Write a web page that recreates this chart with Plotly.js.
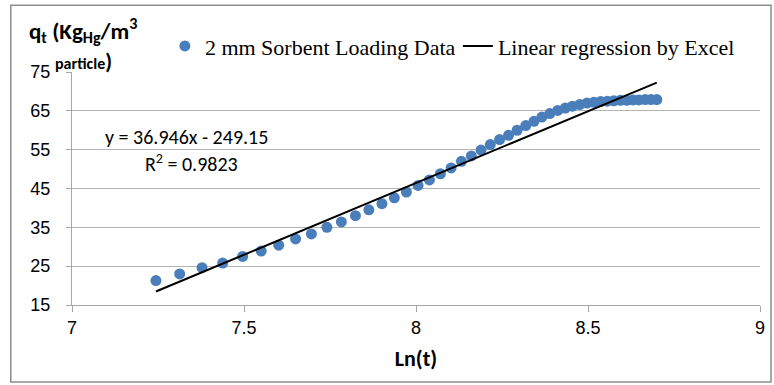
<!DOCTYPE html>
<html>
<head>
<meta charset="utf-8">
<script src="https://cdn.plot.ly/plotly-3.0.1.min.js"></script>
<style>html,body{margin:0;padding:0;background:#fff;}#chart{width:774px;height:385px;}</style>
</head>
<body>
<div id="chart"></div>
<script>
// ln(t) values
const lnT = [7.244, 7.313, 7.378, 7.438, 7.496, 7.550, 7.601, 7.650, 7.696, 7.741,
  7.783, 7.824, 7.863, 7.901, 7.937, 7.972, 8.006, 8.039, 8.071, 8.102,
  8.132, 8.161, 8.189, 8.216, 8.243, 8.269, 8.294, 8.319, 8.343, 8.366,
  8.389, 8.412, 8.434, 8.455, 8.476, 8.497, 8.517, 8.537, 8.556, 8.575,
  8.594, 8.613, 8.631, 8.648, 8.666, 8.683, 8.700];
// q_t values
const qt = [21.3, 23.0, 24.6, 25.8, 27.5, 28.9, 30.4, 32.0, 33.3, 35.0,
  36.4, 38.0, 39.5, 41.1, 42.6, 44.1, 45.8, 47.2, 48.8, 50.3,
  52.0, 53.4, 54.9, 56.3, 57.6, 58.7, 60.0, 61.2, 62.3, 63.4,
  64.3, 65.1, 65.7, 66.2, 66.6, 67.0, 67.2, 67.4, 67.5, 67.6,
  67.7, 67.7, 67.8, 67.8, 67.9, 67.9, 67.9];
// regression line from the printed equation
const slope = 36.946;
const intercept = -249.15;
const fitX = [7.244, 8.700];
const fitY = fitX.map(x => slope * x + intercept);

const xTicks = [7, 7.5, 8, 8.5, 9];
const yTicks = [15, 25, 35, 45, 55, 65, 75];

const NARROW = 'Liberation Sans Narrow, Carlito, Arial Narrow, sans-serif';
const tickFont = {family: 'Liberation Sans, Arial, sans-serif', size: 18, color: '#000'};

const data = [
  {x: lnT, y: qt, type: 'scatter', mode: 'markers', name: '2 mm Sorbent Loading Data',
   marker: {color: '#4A7EBB', size: 11}},
  {x: fitX, y: fitY, type: 'scatter', mode: 'lines', name: 'Linear regression by Excel',
   line: {color: '#000', width: 2}}
];

const layout = {
  width: 774, height: 385,
  margin: {l: 72, r: 14, t: 72, b: 79.5, autoexpand: false},
  paper_bgcolor: '#fff', plot_bgcolor: '#fff',
  showlegend: true,
  legend: {orientation: 'h', x: 0.135, y: 1.111, xanchor: 'left', yanchor: 'middle',
    font: {family: 'Liberation Serif, Times New Roman, serif', size: 22, color: '#000'},
    bgcolor: 'rgba(0,0,0,0)', tracegroupgap: 0, entrywidth: 248, entrywidthmode: 'pixels'},
  xaxis: {range: [7, 9], tickvals: xTicks, ticktext: xTicks.map(String),
    showgrid: false, zeroline: false, showline: true, linecolor: '#A6A6A6', linewidth: 1,
    ticks: 'outside', ticklen: 6, tickcolor: '#A6A6A6', tickfont: tickFont,
    title: {text: '<b>Ln(t)</b>', font: {family: NARROW, size: 22, color: '#000'}, standoff: 14}},
  yaxis: {range: [15, 75], tickvals: yTicks, ticktext: yTicks.map(String),
    showgrid: true, gridcolor: '#B3B3B3', gridwidth: 1, zeroline: false,
    showline: true, linecolor: '#A6A6A6', linewidth: 1,
    ticks: 'outside', ticklen: 5, tickcolor: '#A6A6A6', tickfont: tickFont, ticklabelstandoff: 12},
  annotations: [
    {xref: 'paper', yref: 'paper', x: -0.066, y: 1.18, xanchor: 'left', yanchor: 'middle', showarrow: false,
     text: '<b>q<sub>t</sub> (Kg<sub>Hg</sub>/m<sup>3</sup></b>',
     font: {family: NARROW, size: 23, color: '#000'}},
    {xref: 'paper', yref: 'paper', x: -0.027, y: 1.045, xanchor: 'left', yanchor: 'middle', showarrow: false,
     text: '<b><span style="font-size:16px">particle</span>)</b>',
     font: {family: NARROW, size: 22, color: '#000'}},
    {xref: 'paper', yref: 'paper', x: 0.045, y: 0.722, xanchor: 'left', yanchor: 'middle', showarrow: false,
     text: 'y = 36.946x - 249.15',
     font: {family: NARROW, size: 20, color: '#000'}},
    {xref: 'paper', yref: 'paper', x: 0.103, y: 0.61, xanchor: 'left', yanchor: 'middle', showarrow: false,
     text: 'R<sup>2</sup> = 0.9823',
     font: {family: NARROW, size: 20, color: '#000'}}
  ],
  shapes: [
    {type: 'rect', xref: 'paper', yref: 'paper', x0: -0.089, x1: 1.016, y0: -0.33, y1: 1.287,
     line: {color: '#8C8C8C', width: 1.5}, fillcolor: 'rgba(0,0,0,0)', layer: 'below'}
  ]
};

Plotly.newPlot('chart', data, layout, {displayModeBar: false, staticPlot: true});
</script>
</body>
</html>
